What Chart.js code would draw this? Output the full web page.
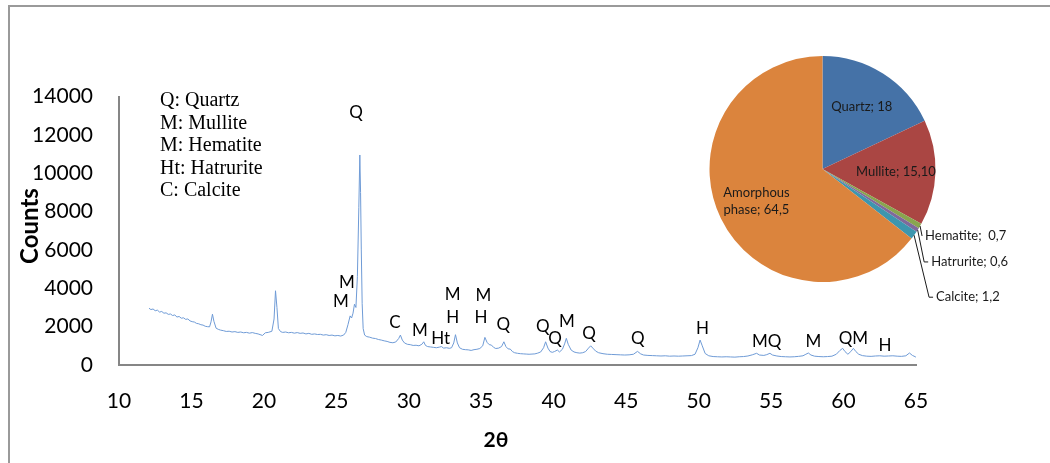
<!DOCTYPE html>
<html>
<head>
<meta charset="utf-8">
<script src="https://cdn.jsdelivr.net/npm/chart.js@4.4.0/dist/chart.umd.min.js"></script>
<style>
    body { margin: 0; background: #ffffff; }
    #wrap { position: relative; width: 1050px; height: 463px; overflow: hidden; }
    #xrd-chart { position: absolute; left: 0; top: 0; }
    #phase-pie { position: absolute; left: 700px; top: 20px; }
</style>
</head>
<body>
<div id="wrap">
    <canvas id="xrd-chart" width="1050" height="463"></canvas>
    <canvas id="phase-pie" width="350" height="320"></canvas>
</div>
<script>
// XRD pattern (2theta, counts)
var twoTheta = [
    12.07, 12.2, 12.35, 12.5, 12.65, 12.8, 12.95, 13.1, 13.25, 13.4, 13.55, 13.7, 13.85, 14.0, 14.15, 14.3, 14.45, 14.6, 14.75, 14.9,
    15.05, 15.2, 15.35, 15.5, 15.65, 15.8, 15.95, 16.1, 16.25, 16.35, 16.45, 16.55, 16.7, 16.85, 17.0, 17.2, 17.4, 17.6, 17.8, 18.0,
    18.2, 18.4, 18.6, 18.8, 19.0, 19.2, 19.4, 19.6, 19.9, 20.1, 20.3, 20.55, 20.7, 20.8, 20.9, 21.0, 21.15, 21.3, 21.5, 21.7,
    21.9, 22.1, 22.3, 22.5, 22.7, 22.9, 23.1, 23.3, 23.5, 23.7, 23.9, 24.1, 24.3, 24.5, 24.7, 24.9, 25.1, 25.3, 25.5, 25.65,
    25.8, 25.95, 26.05, 26.15, 26.25, 26.35, 26.45, 26.55, 26.62, 26.67, 26.72, 26.78, 26.85, 26.95, 27.1, 27.3, 27.5, 27.7, 27.9, 28.1,
    28.3, 28.5, 28.7, 28.9, 29.1, 29.3, 29.42, 29.55, 29.7, 29.9, 30.1, 30.3, 30.5, 30.7, 30.9, 31.03, 31.15, 31.3, 31.5, 31.7,
    31.9, 32.1, 32.25, 32.4, 32.6, 32.8, 32.95, 33.1, 33.22, 33.35, 33.5, 33.7, 33.9, 34.1, 34.3, 34.5, 34.7, 34.9, 35.1, 35.25,
    35.4, 35.55, 35.7, 35.85, 36.0, 36.2, 36.4, 36.56, 36.7, 36.85, 37.0, 37.15, 37.3, 37.5, 37.7, 37.9, 38.1, 38.3, 38.5, 38.7,
    38.9, 39.1, 39.3, 39.44, 39.6, 39.75, 39.9, 40.05, 40.25, 40.4, 40.6, 40.75, 40.87, 41.0, 41.2, 41.4, 41.6, 41.8, 42.0, 42.2,
    42.4, 42.55, 42.7, 42.9, 43.1, 43.4, 43.7, 44.0, 44.3, 44.6, 44.9, 45.2, 45.5, 45.78, 46.0, 46.2, 46.5, 46.8, 47.1, 47.4,
    47.7, 48.0, 48.3, 48.6, 48.9, 49.2, 49.5, 49.75, 49.95, 50.1, 50.25, 50.45, 50.7, 51.0, 51.3, 51.6, 51.9, 52.2, 52.5, 52.8,
    53.1, 53.4, 53.7, 54.0, 54.2, 54.5, 54.7, 54.92, 55.1, 55.4, 55.7, 56.0, 56.3, 56.6, 56.9, 57.2, 57.4, 57.57, 57.75, 58.0,
    58.3, 58.6, 58.9, 59.2, 59.5, 59.75, 59.94, 60.1, 60.3, 60.5, 60.68, 60.85, 61.05, 61.3, 61.6, 61.9, 62.2, 62.5, 62.8, 63.1,
    63.4, 63.7, 64.0, 64.3, 64.55, 64.75, 64.95, 65.1
];
var counts = [
    2960, 2890, 2920, 2830, 2860, 2760, 2790, 2700, 2720, 2640, 2660, 2580, 2610, 2500, 2530, 2440, 2460, 2380, 2400, 2300,
    2260, 2240, 2170, 2150, 2100, 2080, 2020, 2000, 1990, 2250, 2650, 2280, 1920, 1860, 1820, 1790, 1750, 1760, 1720, 1740,
    1700, 1720, 1680, 1700, 1660, 1690, 1650, 1620, 1540, 1680, 1700, 1760, 2400, 3870, 3000, 1900, 1740, 1700, 1720, 1680,
    1700, 1660, 1690, 1650, 1670, 1620, 1650, 1600, 1620, 1590, 1600, 1560, 1580, 1540, 1560, 1520, 1540, 1510, 1560, 1700,
    2100, 2560, 2450, 2700, 3170, 3000, 4600, 8200, 10950, 9000, 6000, 3200, 1900, 1560, 1480, 1450, 1400, 1380, 1330, 1300,
    1260, 1230, 1180, 1160, 1200, 1380, 1560, 1300, 1150, 1080, 1060, 1020, 1030, 1000, 1080, 1210, 1020, 960, 940, 920,
    900, 930, 960, 880, 900, 870, 900, 1150, 1580, 1150, 900, 820, 800, 790, 760, 800, 820, 860, 1000, 1440,
    1180, 1060, 1040, 920, 860, 880, 960, 1210, 960, 840, 830, 700, 640, 610, 590, 580, 570, 560, 570, 580,
    620, 680, 900, 1210, 880, 700, 660, 700, 780, 680, 820, 1100, 1390, 1080, 780, 680, 640, 620, 640, 700,
    880, 1000, 880, 720, 640, 590, 560, 550, 540, 530, 520, 530, 560, 710, 580, 520, 500, 490, 480, 470,
    480, 460, 470, 460, 470, 480, 490, 560, 900, 1300, 1000, 600, 480, 440, 430, 420, 430, 420, 410, 430,
    440, 470, 530, 610, 520, 500, 540, 610, 520, 470, 440, 430, 420, 430, 450, 480, 560, 625, 520, 460,
    440, 430, 440, 460, 560, 760, 870, 700, 560, 700, 870, 700, 560, 490, 460, 450, 470, 480, 460, 470,
    480, 460, 450, 480, 625, 500, 430, 350
];

// peak labels: text, 2theta, counts where the label sits
var peakText = ['Q', 'M', 'M', 'C', 'M', 'Ht', 'M', 'H', 'M', 'H', 'Q', 'Q', 'Q', 'M', 'Q', 'Q', 'H', 'MQ', 'M', 'QM', 'H'];
var peakX = [26.36, 25.73, 25.32, 29.05, 30.77, 32.2, 33.03, 33.03, 35.14, 34.98, 36.52, 39.24, 40.09, 40.9, 42.44, 45.8, 50.26, 54.7, 57.92, 60.68, 62.86];
var peakY = [13190, 4275, 3285, 2190, 1790, 1390, 3650, 2465, 3600, 2450, 2120, 2000, 1390, 2260, 1650, 1390, 1910, 1215, 1215, 1390, 990];

var legendLines = ['Q: Quartz', 'M: Mullite', 'M: Hematite', 'Ht: Hatrurite', 'C: Calcite'];

var xTicksMin = 10, xTicksMax = 65, xStep = 5;
var yTicksMin = 0, yTicksMax = 14000, yStep = 2000;

// phase quantification (pie)
var phaseNames = ['Quartz', 'Mullite', 'Hematite', 'Hatrurite', 'Calcite', 'Amorphous phase'];
var phaseValues = [18, 15.1, 0.7, 0.6, 1.2, 64.5];
var phaseLabels = [['Quartz; 18'], ['Mullite; 15,10'], ['Hematite;  0,7'], ['Hatrurite; 0,6'], ['Calcite; 1,2'], ['Amorphous', 'phase; 64,5']];
var phaseColors = ['#4572a7', '#aa4643', '#89a54e', '#80699b', '#3d96ae', '#db843d'];

const sansFont = 'Lato, "Liberation Sans", sans-serif';

document.addEventListener('DOMContentLoaded', function() {
    const xrdCanvas = document.getElementById('xrd-chart');

    var points = twoTheta.map(function(t, i) { return {x: t, y: counts[i]}; });

    // frame, legend box text, axis titles and peak letters
    const extrasPlugin = {
        id: 'extras',
        beforeDraw: function(chart) {
            const ctx = chart.ctx;
            ctx.save();
            ctx.fillStyle = '#ffffff';
            ctx.fillRect(0, 0, chart.width, chart.height);
            ctx.strokeStyle = '#9a9a9a';
            ctx.lineWidth = 2;
            ctx.beginPath();
            ctx.moveTo(9, chart.height);
            ctx.lineTo(9, 6);
            ctx.lineTo(chart.width, 6);
            ctx.stroke();
            ctx.restore();
        },
        afterDatasetsDraw: function(chart) {
            const ctx = chart.ctx;
            const xs = chart.scales.x, ys = chart.scales.y;
            ctx.save();
            ctx.fillStyle = '#000000';
            ctx.textAlign = 'center';
            ctx.textBaseline = 'middle';
            ctx.font = '17px ' + sansFont;
            peakText.forEach(function(txt, i) {
                ctx.fillText(txt, xs.getPixelForValue(peakX[i]), ys.getPixelForValue(peakY[i]));
            });

            ctx.textAlign = 'left';
            ctx.font = '20px "Liberation Serif", "Times New Roman", serif';
            legendLines.forEach(function(txt, i) {
                ctx.fillText(txt, 160, 101 + i * 22.5);
            });

            ctx.font = 'bold 21px ' + sansFont;
            ctx.textAlign = 'center';
            ctx.fillText('2θ', 496, 440);
            ctx.font = 'bold 24px ' + sansFont;
            ctx.translate(30, 226);
            ctx.rotate(-Math.PI / 2);
            ctx.fillText('Counts', 0, 0);
            ctx.restore();
        }
    };

    new Chart(xrdCanvas, {
        type: 'line',
        data: {
            datasets: [{
                label: 'XRD',
                data: points,
                borderColor: '#6f9bd6',
                borderWidth: 1,
                pointRadius: 0,
                tension: 0,
                fill: false
            }]
        },
        options: {
            responsive: false,
            animation: false,
            events: [],
            layout: { padding: { left: 0, top: 96.5, right: 134, bottom: 0 } },
            plugins: {
                legend: { display: false },
                tooltip: { enabled: false }
            },
            scales: {
                x: {
                    type: 'linear',
                    min: xTicksMin,
                    max: xTicksMax,
                    grid: { display: false, drawTicks: false },
                    border: { display: true, color: '#868686', width: 2 },
                    ticks: {
                        stepSize: xStep,
                        padding: 24,
                        color: '#000000',
                        font: { family: sansFont, size: 21 },
                        callback: function(value) { return String(value); }
                    },
                    afterFit: function(scale) { scale.height = 98; }
                },
                y: {
                    min: yTicksMin,
                    max: yTicksMax,
                    grid: { display: false, drawTicks: false },
                    border: { display: true, color: '#868686', width: 2 },
                    ticks: {
                        stepSize: yStep,
                        padding: 26,
                        color: '#000000',
                        font: { family: sansFont, size: 21 },
                        callback: function(value) { return String(value); }
                    },
                    afterFit: function(scale) { scale.width = 119; }
                }
            }
        },
        plugins: [extrasPlugin]
    });
});

document.addEventListener('DOMContentLoaded', function() {
    const pieCanvas = document.getElementById('phase-pie');

    // leader line elbow offsets for the thin slices (from the slice edge)
    var callouts = { 2: [2, 10, 0], 3: [6.5, 32, 4], 4: [15, 62, 4] };

    const pieLabelPlugin = {
        id: 'pieLabels',
        afterDatasetsDraw: function(chart) {
            const ctx = chart.ctx;
            const arcs = chart.getDatasetMeta(0).data;
            ctx.save();
            ctx.fillStyle = '#1a1a1a';
            ctx.font = '13px ' + sansFont;
            ctx.textBaseline = 'middle';
            arcs.forEach(function(arc, i) {
                const mid = (arc.startAngle + arc.endAngle) / 2;
                const lines = phaseLabels[i];
                if (callouts[i]) {
                    const ex = arc.x + Math.cos(mid) * arc.outerRadius;
                    const ey = arc.y + Math.sin(mid) * arc.outerRadius;
                    const c = callouts[i];
                    ctx.strokeStyle = '#1a1a1a';
                    ctx.lineWidth = 1;
                    ctx.beginPath();
                    ctx.moveTo(ex, ey);
                    ctx.lineTo(ex + c[0], ey + c[1]);
                    ctx.lineTo(ex + c[0] + c[2], ey + c[1]);
                    ctx.stroke();
                    ctx.textAlign = 'left';
                    ctx.fillText(lines[0], ex + c[0] + c[2] + 3, ey + c[1]);
                } else {
                    const r = arc.outerRadius * 0.65;
                    const lx = arc.x + Math.cos(mid) * r;
                    const ly = arc.y + Math.sin(mid) * r;
                    ctx.textAlign = 'center';
                    lines.forEach(function(txt, k) {
                        ctx.fillText(txt, lx, ly + (k - (lines.length - 1) / 2) * 17);
                    });
                }
            });
            ctx.restore();
        }
    };

    new Chart(pieCanvas, {
        type: 'pie',
        data: {
            labels: phaseNames,
            datasets: [{
                data: phaseValues,
                backgroundColor: phaseColors,
                borderWidth: 0
            }]
        },
        options: {
            responsive: false,
            animation: false,
            events: [],
            layout: { padding: { left: 9.5, top: 36, right: 114.5, bottom: 58 } },
            plugins: {
                legend: { display: false },
                tooltip: { enabled: false }
            }
        },
        plugins: [pieLabelPlugin]
    });
});
</script>
</body>
</html>
